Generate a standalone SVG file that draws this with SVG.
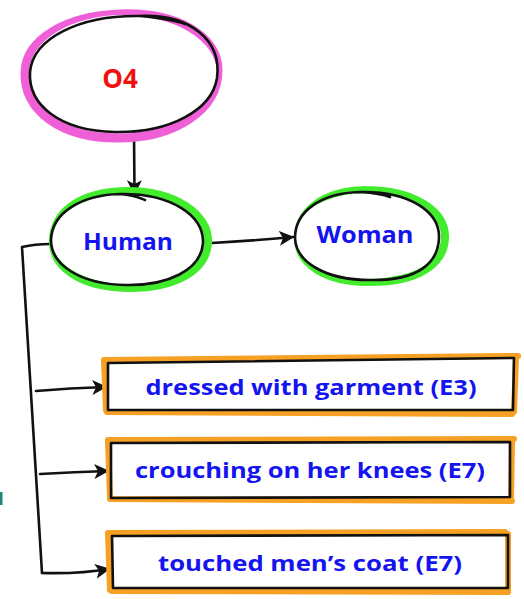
<svg xmlns="http://www.w3.org/2000/svg" width="524" height="599" viewBox="0 0 524 599">
<defs>
<style>
.lbl{font-family:"Open Sans","Liberation Sans",sans-serif;font-weight:700;fill:#1414f0;text-anchor:middle}
.ink{fill:none;stroke:#111;stroke-width:2.6;stroke-linecap:round;stroke-linejoin:round}
.pink{fill:none;stroke:#ef5fd8;stroke-width:9;stroke-linecap:round}
.green{fill:none;stroke:#42ec2c;stroke-width:8;stroke-linecap:round}
.orange{fill:none;stroke:#f6a024;stroke-width:6;stroke-linecap:round}
.conn{fill:none;stroke:#111;stroke-width:2.6;stroke-linecap:round;stroke-linejoin:round}
</style>
<marker id="ah" viewBox="0 0 12 12" refX="11" refY="6" markerWidth="15" markerHeight="15" markerUnits="userSpaceOnUse" orient="auto">
<path d="M0,0 L12,6 L0,12 L3,6 Z" fill="#111"/>
</marker>
</defs>
<rect width="524" height="599" fill="#fff"/>
<rect x="0" y="492" width="2.5" height="13" fill="#1a8a7a"/>

<g id="connectors">
<path class="conn" d="M134,133 L134.5,194" marker-end="url(#ah)"/>
<path class="conn" d="M212,243 Q250,241 293,237" marker-end="url(#ah)"/>
<path class="conn" d="M50,244 Q35,244 22,247 L42,573"/>
<path class="conn" d="M36,391 Q70,388 106,387" marker-end="url(#ah)"/>
<path class="conn" d="M40,474 Q75,472 108,471" marker-end="url(#ah)"/>
<path class="conn" d="M42,573 Q80,574 109,569" marker-end="url(#ah)"/>
</g>

<g id="node-O4">
<path class="pink" d="M120,14 C175,12 218,35 218,70 C218,110 175,138 118,138 C60,138 24,110 25,72 C26,40 65,16 120,14 C140,14 160,18 172,24"/>
<ellipse cx="123" cy="73" rx="94" ry="58" fill="#fff"/>
<path class="ink" d="M140,16 C190,14 222,40 217,78 C212,110 170,133 115,132 C60,131 28,105 30,72 C33,38 80,15 140,16 C160,18 175,20 185,24"/>
<text x="120" y="88" style="font-family:'Open Sans','Liberation Sans',sans-serif;font-weight:700;fill:#f01010;font-size:26px" text-anchor="middle">O4</text>
</g>

<g id="node-Human">
<path class="green" d="M125,191 C175,190 210,215 208,243 C206,272 172,289 127,288 C82,287 52,268 53,240 C54,212 80,192 125,191"/>
<ellipse cx="127" cy="239" rx="76" ry="45" fill="#fff"/>
<path class="ink" d="M120,194 C170,193 204,215 203,243 C201,270 168,286 125,285 C80,284 51,265 51,240 C52,212 82,195 120,194 C135,195 140,198 145,200"/>
<text class="lbl" x="128" y="250" font-size="24" textLength="90" lengthAdjust="spacingAndGlyphs">Human</text>
</g>

<g id="node-Woman">
<path class="green" d="M365,190 C415,190 446,212 445,238 C444,263 420,282 370,282 C325,282 298,264 298,238 C298,212 322,191 365,190"/>
<ellipse cx="367" cy="236" rx="73" ry="43" fill="#fff"/>
<path class="ink" d="M360,192 C410,191 440,212 439,238 C438,262 420,281 370,280 C325,280 296,262 295,238 C295,212 320,193 360,192 C375,193 385,195 390,197"/>
<text class="lbl" x="365" y="243" font-size="24" textLength="97" lengthAdjust="spacingAndGlyphs">Woman</text>
</g>

<g id="node-E3-dressed">
<path class="orange" d="M105,360 L518,356 M107,412 L512,414 M104,360 L106,410 M516,358 L514,412"/>
<path class="ink" d="M108,363 L514,358 L513,410 L108,410 Z" fill="#fff"/>
<text class="lbl" x="311" y="395" font-size="22" textLength="331" lengthAdjust="spacingAndGlyphs">dressed with garment (E3)</text>
</g>

<g id="node-E7-crouching">
<path class="orange" d="M108,440 L514,439 M110,499 L512,501 M108,441 L110,498 M512,441 L511,499"/>
<path class="ink" d="M111,443 L510,442 L510,497 L111,498 Z" fill="#fff"/>
<text class="lbl" x="310" y="478" font-size="22" textLength="350" lengthAdjust="spacingAndGlyphs">crouching on her knees (E7)</text>
</g>

<g id="node-E7-touched">
<path class="orange" d="M108,533 L505,532 M112,591 L508,592 M108,533 L110,590 M508,534 L508,591"/>
<path class="ink" d="M112,536 L508,535 L508,588 L113,588 Z" fill="#fff"/>
<text class="lbl" x="310" y="571" font-size="22" textLength="304" lengthAdjust="spacingAndGlyphs">touched men’s coat (E7)</text>
</g>
</svg>
